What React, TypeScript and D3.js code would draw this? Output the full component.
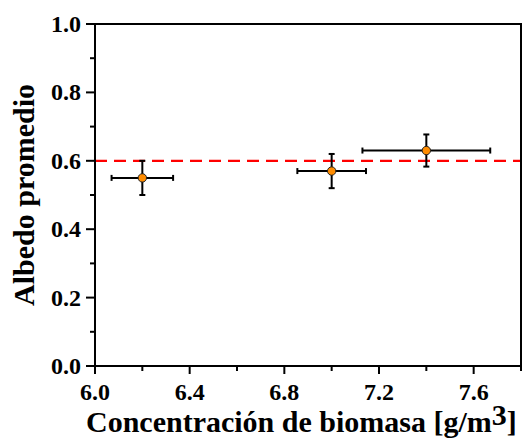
import React from "react";
import * as d3 from "d3";

const xValues = [6.2, 7.0, 7.4];
const yValues = [0.55, 0.57, 0.63];
const xErrors = [0.13, 0.145, 0.27];
const yErrors = [0.05, 0.05, 0.047];
const referenceLine = 0.6;
const xTicks = [6.0, 6.4, 6.8, 7.2, 7.6];
const xMinorTicks = [6.2, 6.6, 7.0, 7.4, 7.8];
const yTicks = [0.0, 0.2, 0.4, 0.6, 0.8, 1.0];
const yMinorTicks = [0.1, 0.3, 0.5, 0.7, 0.9];

const W = 528;
const H = 439;
const left = 95;
const right = 521;
const top = 24;
const bottom = 366;

export default function App() {
  const x = d3.scaleLinear().domain([6.0, 7.8]).range([left, right]);
  const y = d3.scaleLinear().domain([0, 1]).range([bottom, top]);
  const font = "'Liberation Serif', 'Times New Roman', serif";
  const capW = 3;
  return (
    <svg width={W} height={H} style={{ position: "absolute", left: 0, top: 0 }}>
      <rect x={0} y={0} width={W} height={H} fill="#fff" />
      <line
        x1={x(6.0)}
        x2={x(7.8)}
        y1={y(referenceLine)}
        y2={y(referenceLine)}
        stroke="#FF0000"
        strokeWidth={2.2}
        strokeDasharray="12,7"
      />
      <rect x={left} y={top} width={right - left} height={bottom - top} fill="none" stroke="#000" strokeWidth={2} />
      {yTicks.map((t) => (
        <g key={"yt" + t}>
          <line x1={left - 9} x2={left} y1={y(t)} y2={y(t)} stroke="#000" strokeWidth={2} />
          <text
            x={left - 14}
            y={y(t) + 8}
            textAnchor="end"
            fontFamily={font}
            fontWeight="bold"
            fontSize={24}
          >
            {t.toFixed(1)}
          </text>
        </g>
      ))}
      {yMinorTicks.map((t) => (
        <line key={"ym" + t} x1={left - 5} x2={left} y1={y(t)} y2={y(t)} stroke="#000" strokeWidth={2} />
      ))}
      {xTicks.map((t) => (
        <g key={"xt" + t}>
          <line x1={x(t)} x2={x(t)} y1={bottom} y2={bottom + 8} stroke="#000" strokeWidth={2} />
          <text
            x={x(t)}
            y={400}
            textAnchor="middle"
            fontFamily={font}
            fontWeight="bold"
            fontSize={24}
          >
            {t.toFixed(1)}
          </text>
        </g>
      ))}
      {xMinorTicks.map((t) => (
        <line key={"xm" + t} x1={x(t)} x2={x(t)} y1={bottom} y2={bottom + 5} stroke="#000" strokeWidth={2} />
      ))}
      {xValues.map((xv, i) => {
        const cx = x(xv);
        const cy = y(yValues[i]);
        const x0 = x(xv - xErrors[i]);
        const x1 = x(xv + xErrors[i]);
        const y0 = y(yValues[i] - yErrors[i]);
        const y1 = y(yValues[i] + yErrors[i]);
        return (
          <g key={"p" + i} stroke="#000" strokeWidth={2}>
            <line x1={x0} x2={x1} y1={cy} y2={cy} />
            <line x1={x0} x2={x0} y1={cy - capW} y2={cy + capW} />
            <line x1={x1} x2={x1} y1={cy - capW} y2={cy + capW} />
            <line x1={cx} x2={cx} y1={y0} y2={y1} />
            <line x1={cx - capW} x2={cx + capW} y1={y0} y2={y0} />
            <line x1={cx - capW} x2={cx + capW} y1={y1} y2={y1} />
            <circle cx={cx} cy={cy} r={4.2} fill="#FF8C00" stroke="#222" strokeWidth={1} />
          </g>
        );
      })}
      <text
        transform={`translate(34, ${(top + bottom) / 2}) rotate(-90)`}
        textAnchor="middle"
        fontFamily={font}
        fontWeight="bold"
        fontSize={30}
      >
        Albedo promedio
      </text>
      <text x={86} y={432} fontFamily={font} fontWeight="bold" fontSize={30}>
        Concentración de biomasa [g/m
        <tspan dy={-7}>3</tspan>
        <tspan dy={7}>]</tspan>
      </text>
    </svg>
  );
}
